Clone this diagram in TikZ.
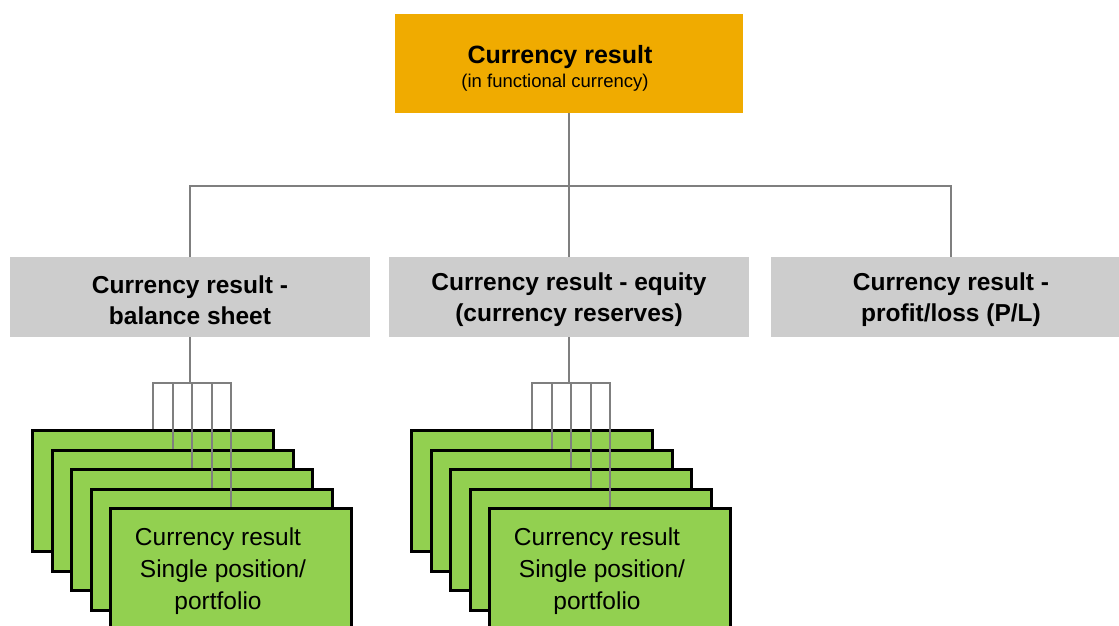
\documentclass[tikz,border=0pt]{standalone}
\usepackage{fontspec}
\setmainfont{Liberation Sans}
\definecolor{topfill}{HTML}{F0AB00}
\definecolor{grayfill}{HTML}{CDCDCD}
\definecolor{cardfill}{HTML}{92D050}
\definecolor{conncol}{HTML}{7F7F7F}
\tikzset{
  topbox/.style={fill=topfill, draw=none, anchor=north west, minimum width=348pt, minimum height=99pt, inner sep=0pt},
  graybox/.style={fill=grayfill, draw=none, anchor=north west, minimum height=80pt, inner sep=0pt},
  graytext/.style={align=center, font=\fontsize{24.5}{31}\selectfont\bfseries},
  card/.style={fill=cardfill, draw=black, line width=3pt, anchor=north west, minimum width=241pt, minimum height=121pt, inner sep=0pt},
  cardtext/.style={align=center, font=\fontsize{24.5}{32}\selectfont},
  conn/.style={draw=conncol, line width=2pt}
}
\begin{document}
\begin{tikzpicture}[x=1pt,y=-1pt]
\useasboundingbox (0,0) rectangle (1119,626);
\clip (0,0) rectangle (1119,626);
% top box
\node[topbox] (top) at (395,14) {};
\node[font=\fontsize{25}{30}\selectfont\bfseries] (toptitle) at (560,57) {Currency result};
\node[font=\fontsize{18.5}{22}\selectfont] (topsub) at (555,83) {(in functional currency)};
% gray boxes
\node[graybox, minimum width=360pt] (bs) at (10,257) {};
\node[graybox, minimum width=360pt] (eq) at (389,257) {};
\node[graybox, minimum width=360pt] (pl) at (771,257) {};
\node[graytext] (bst) at (190,300) {Currency result -\\balance sheet};
\node[graytext] (eqt) at (569,300) {Currency result - equity\\(currency reserves)};
\node[graytext] (plt) at (951,300) {Currency result -\\profit/loss (P/L)};
% connectors from top
\coordinate (j) at (569,186);
\draw[conn] (top.south) -- (eq.north);
\draw[conn] (bs.north) -- (bs.north |- j) -- (pl.north |- j) -- (pl.north);
% left stack of cards
\node[card] (l1) at (31,429) {};
\node[card] (l2) at (50.5,448.5) {};
\node[card] (l3) at (70,468) {};
\node[card] (l4) at (89.5,487.5) {};
\node[card] (l5) at (109,507) {};
\node[cardtext] (l5t) at (218,571) {Currency result\\\hspace*{10pt}Single position/\\portfolio};
\draw[conn] (bs.south) -- ++(0,46) coordinate (lj);
\draw[conn] (l1.north) -- (l1.north |- lj) -- (l5.north |- lj) -- (l5.north);
\draw[conn] (l2.north) -- (l2.north |- lj);
\draw[conn] (l3.north) -- (l3.north |- lj);
\draw[conn] (l4.north) -- (l4.north |- lj);
% middle stack of cards
\node[card] (m1) at (410,429) {};
\node[card] (m2) at (429.5,448.5) {};
\node[card] (m3) at (449,468) {};
\node[card] (m4) at (468.5,487.5) {};
\node[card] (m5) at (488,507) {};
\node[cardtext] (m5t) at (597,571) {Currency result\\\hspace*{10pt}Single position/\\portfolio};
\draw[conn] (eq.south) -- ++(0,46) coordinate (mj);
\draw[conn] (m1.north) -- (m1.north |- mj) -- (m5.north |- mj) -- (m5.north);
\draw[conn] (m2.north) -- (m2.north |- mj);
\draw[conn] (m3.north) -- (m3.north |- mj);
\draw[conn] (m4.north) -- (m4.north |- mj);
\end{tikzpicture}
\end{document}
